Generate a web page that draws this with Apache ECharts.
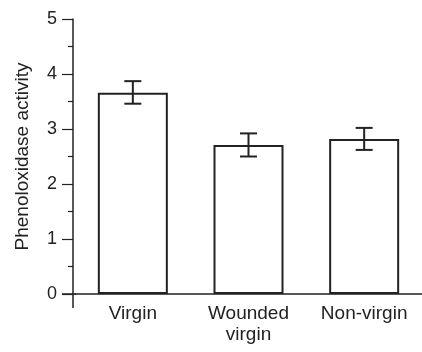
<!DOCTYPE html>
<html>
<head>
<meta charset="utf-8">
<script src="https://cdn.jsdelivr.net/npm/echarts@6/dist/echarts.min.js"></script>
<style>
  html, body { margin: 0; padding: 0; background: #fff; }
  #main { width: 422px; height: 352px; }
</style>
</head>
<body>
<div id="main"></div>
<script>
// phenoloxidase activity, mean +/- error
var categories = ['Virgin', 'Wounded\nvirgin', 'Non-virgin'];
var means = [3.66, 2.71, 2.82];
var errLow = [3.46, 2.50, 2.62];
var errHigh = [3.87, 2.92, 3.02];
var yTicks = [0, 1, 2, 3, 4, 5];

var ink = '#222';
var font = 'Liberation Sans, Arial, Helvetica, sans-serif';

var chart = echarts.init(document.getElementById('main'), null, { renderer: 'canvas' });

var errData = [];
for (var i = 0; i < categories.length; i++) {
  errData.push([i, errLow[i], errHigh[i]]);
}

var option = {
  animation: false,
  backgroundColor: '#fff',
  grid: {
    left: 75,
    right: -7,
    top: 19,
    bottom: 58
  },
  xAxis: {
    type: 'category',
    data: categories,
    axisLine: { lineStyle: { color: ink, width: 1.5 } },
    axisTick: { show: false },
    axisLabel: {
      color: ink,
      fontFamily: font,
      fontSize: 19,
      lineHeight: 21,
      margin: 9
    }
  },
  yAxis: {
    type: 'value',
    min: yTicks[0],
    max: yTicks[yTicks.length - 1],
    interval: 1,
    offset: 2,
    name: 'Phenoloxidase activity',
    nameLocation: 'middle',
    nameGap: 41,
    nameTextStyle: { color: ink, fontFamily: font, fontSize: 19 },
    axisLine: { show: true, lineStyle: { color: ink, width: 1.5 } },
    axisTick: { show: true, length: 11, lineStyle: { color: ink, width: 1.2 } },
    minorTick: { show: true, splitNumber: 2, length: 5, lineStyle: { color: ink, width: 1.2 } },
    splitLine: { show: false },
    axisLabel: {
      color: ink,
      fontFamily: font,
      fontSize: 18,
      margin: 16
    }
  },
  graphic: [
    // little axis overhangs at the origin
    { type: 'line', shape: { x1: 62, y1: 294, x2: 76, y2: 294 }, style: { stroke: ink, lineWidth: 1.5 } },
    { type: 'line', shape: { x1: 73, y1: 294, x2: 73, y2: 308 }, style: { stroke: ink, lineWidth: 1.5 } }
  ],
  series: [
    {
      type: 'bar',
      data: means,
      barWidth: 70,
      itemStyle: { color: '#fff', borderColor: ink, borderWidth: 2 }
    },
    {
      type: 'custom',
      data: errData,
      z: 10,
      renderItem: function (params, api) {
        var x = api.value(0);
        var lo = api.coord([x, api.value(1)]);
        var hi = api.coord([x, api.value(2)]);
        var half = 8.5;
        var st = { stroke: ink, lineWidth: 2 };
        return {
          type: 'group',
          children: [
            { type: 'line', shape: { x1: lo[0], y1: lo[1], x2: hi[0], y2: hi[1] }, style: st },
            { type: 'line', shape: { x1: hi[0] - half, y1: hi[1], x2: hi[0] + half, y2: hi[1] }, style: st },
            { type: 'line', shape: { x1: lo[0] - half, y1: lo[1], x2: lo[0] + half, y2: lo[1] }, style: st }
          ]
        };
      }
    }
  ]
};

chart.setOption(option);
</script>
</body>
</html>
